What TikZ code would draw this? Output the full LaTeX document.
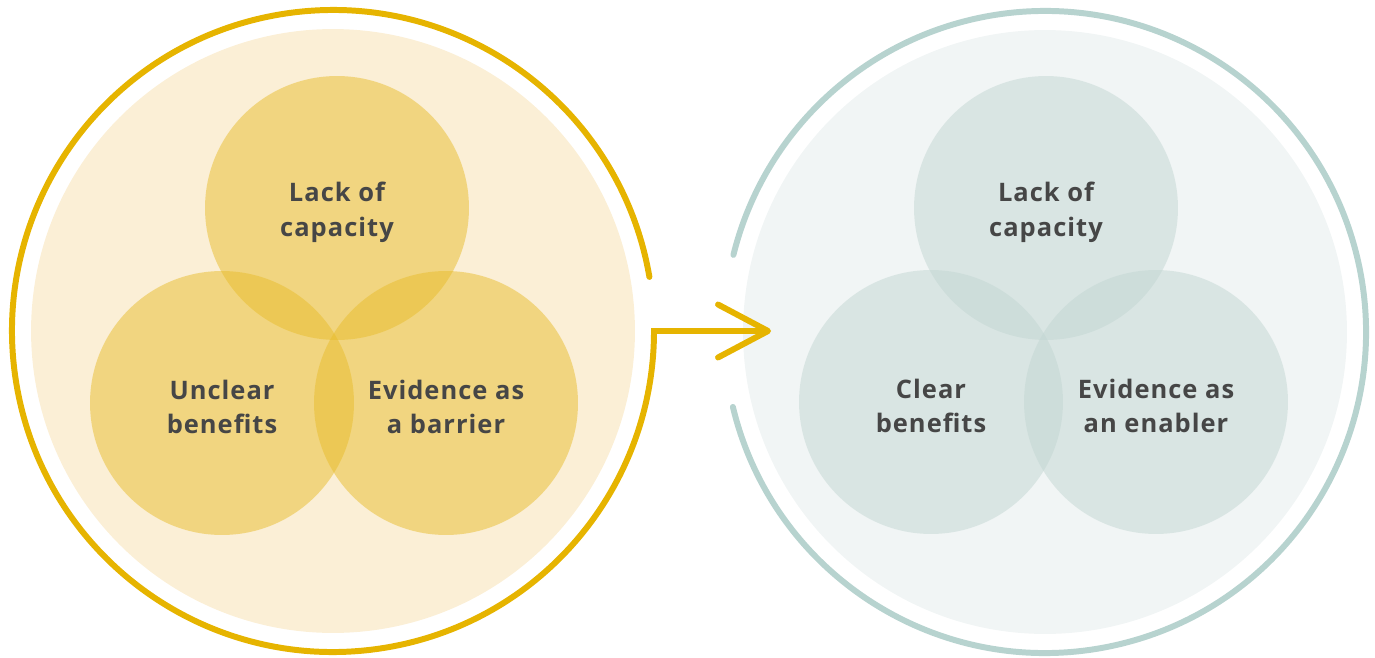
\documentclass[tikz,border=0pt]{standalone}
\usepackage{fontspec}
\setmainfont{Open Sans}[LetterSpace=4]
\usetikzlibrary{arrows.meta}
\definecolor{goldline}{RGB}{230,180,0}
\definecolor{goldfield}{RGB}{251,239,214}
\definecolor{goldset}{RGB}{233,189,43}
\definecolor{sageline}{RGB}{183,211,207}
\definecolor{sagefield}{RGB}{241,245,245}
\definecolor{sageset}{RGB}{195,215,211}
\definecolor{labeltext}{RGB}{70,70,70}

\begin{document}
\begin{tikzpicture}[x=0.02cm,y=0.02cm]
\tikzset{
  field/.style={circle,inner sep=0pt,minimum size=12.08cm},
  setnode/.style={circle,inner sep=0pt,minimum size=5.28cm,fill opacity=0.5},
  setlabel/.style={text=labeltext,align=center,inner sep=0pt,yshift=-2.3pt,
    font=\bfseries\fontsize{14.5}{19.8}\selectfont},
  rim/.style={line width=3.4pt,line cap=round,line join=miter}
}
\useasboundingbox (0,0) rectangle (1375,657);
\node[field,fill=goldfield] (n_goldfield) at (333,326) {};
\node[field,fill=sagefield] (n_sagefield) at (1045,325) {};
\coordinate (c_tip) at (771,326);
\draw[rim,draw=goldline,-{Straight Barb[length=1cm,width=1.06cm,round]}]
  (n_goldfield.center) ++(9.7:321) arc[start angle=9.7,end angle=360,radius=321] -- (c_tip);
\draw[rim,draw=sageline]
  (n_sagefield.center) ++(-166.5:321) arc[start angle=-166.5,end angle=166.1,radius=321];
\node[setnode,fill=goldset] (n_gtop) at (337,449) {};
\node[setnode,fill=goldset] (n_gleft) at (222,254) {};
\node[setnode,fill=goldset] (n_gright) at (446,254) {};
\node[setnode,fill=sageset] (n_stop) at (1046,449) {};
\node[setnode,fill=sageset] (n_sleft) at (931,255) {};
\node[setnode,fill=sageset] (n_sright) at (1156,255) {};
\node[setlabel] (t_gtop) at (n_gtop) {Lack of\\capacity};
\node[setlabel] (t_gleft) at (n_gleft) {Unclear\\benefits};
\node[setlabel] (t_gright) at (n_gright) {Evidence as\\a barrier};
\node[setlabel] (t_stop) at (n_stop) {Lack of\\capacity};
\node[setlabel] (t_sleft) at (n_sleft) {Clear\\benefits};
\node[setlabel] (t_sright) at (n_sright) {Evidence as\\an enabler};
\end{tikzpicture}
\end{document}
